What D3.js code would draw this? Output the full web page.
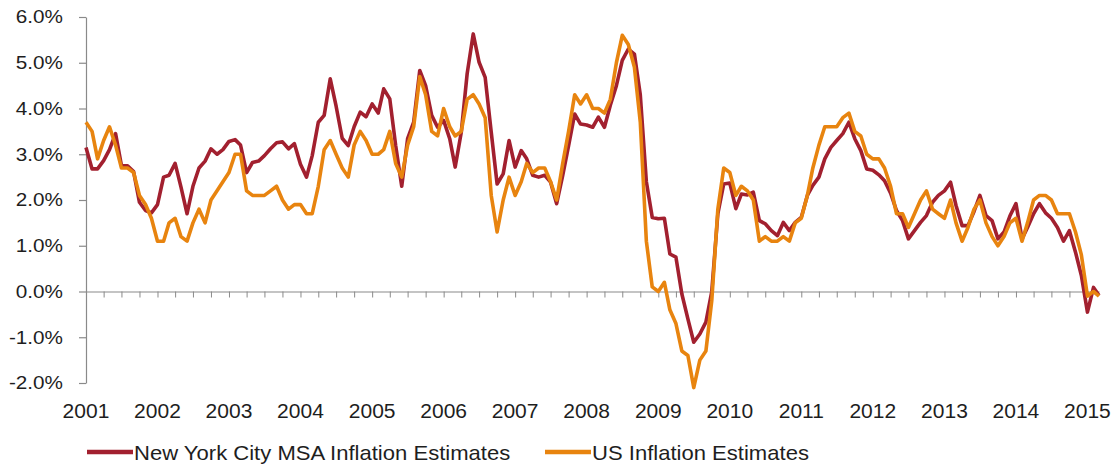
<!DOCTYPE html>
<html>
<head>
<meta charset="utf-8">
<script src="https://cdn.jsdelivr.net/npm/d3@7"></script>
<style>
  body { margin: 0; background: #fff; }
  svg { display: block; font-family: "Liberation Sans", Arial, sans-serif; }
</style>
</head>
<body>
<div id="chart"></div>
<script>
//Series data: monthly year-over-year inflation, Jan 2001 to Mar 2015 (percent)
var startMonth = "2001-01";
var nycInflation = [
  3.15, 2.68, 2.68, 2.86, 3.1, 3.45, 2.75, 2.75, 2.62, 1.95, 1.77, 1.72,
  1.9, 2.5, 2.54, 2.8, 2.28, 1.7, 2.3, 2.7, 2.85, 3.12, 3.0, 3.1,
  3.28, 3.32, 3.2, 2.6, 2.82, 2.85, 2.97, 3.12, 3.25, 3.27, 3.12, 3.23,
  2.78, 2.5, 2.97, 3.7, 3.85, 4.65, 4.05, 3.35, 3.19, 3.6, 3.92, 3.82,
  4.1, 3.9, 4.43, 4.21, 3.19, 2.3, 3.34, 3.7, 4.83, 4.5, 3.85, 3.59,
  3.74, 3.34, 2.72, 3.48, 4.76, 5.63, 5.01, 4.68, 3.48, 2.35, 2.57, 3.3,
  2.72, 3.08, 2.9, 2.54, 2.5, 2.54, 2.39, 1.92, 2.54, 3.19, 3.88, 3.66,
  3.64, 3.59, 3.81, 3.59, 4.07, 4.5, 5.05, 5.3, 5.19, 4.3, 2.4, 1.62,
  1.59, 1.6, 0.82, 0.75, -0.05, -0.6, -1.11, -0.93, -0.67, 0.0, 1.7, 2.35,
  2.37, 1.81, 2.13, 2.11, 2.17, 1.55, 1.48, 1.33, 1.22, 1.51, 1.33, 1.51,
  1.62, 2.1, 2.32, 2.5, 2.9, 3.15, 3.3, 3.45, 3.7, 3.34, 3.08, 2.68,
  2.65, 2.55, 2.42, 2.15, 1.77, 1.55, 1.15, 1.33, 1.51, 1.66, 1.95, 2.1,
  2.2, 2.39, 1.88, 1.44, 1.44, 1.75, 2.1, 1.66, 1.55, 1.15, 1.3, 1.65,
  1.92, 1.15, 1.4, 1.7, 1.92, 1.72, 1.6, 1.4, 1.1, 1.33, 0.86, 0.35,
  -0.45, 0.09, -0.09
];
var usInflation = [
  3.7, 3.5, 2.9, 3.3, 3.6, 3.2, 2.7, 2.7, 2.6, 2.1, 1.9, 1.6,
  1.1, 1.1, 1.5, 1.6, 1.2, 1.1, 1.5, 1.8, 1.5, 2.0, 2.2, 2.4,
  2.6, 3.0, 3.0, 2.2, 2.1, 2.1, 2.1, 2.2, 2.3, 2.0, 1.8, 1.9,
  1.9, 1.7, 1.7, 2.3, 3.1, 3.3, 3.0, 2.7, 2.5, 3.2, 3.5, 3.3,
  3.0, 3.0, 3.1, 3.5, 2.8, 2.5, 3.2, 3.6, 4.7, 4.3, 3.5, 3.4,
  4.0, 3.6, 3.4, 3.5, 4.2, 4.3, 4.1, 3.8, 2.1, 1.3, 2.0, 2.5,
  2.1, 2.4, 2.8, 2.6, 2.7, 2.7, 2.4, 2.0, 2.8, 3.5, 4.3, 4.1,
  4.3, 4.0, 4.0, 3.9, 4.2, 5.0, 5.6, 5.4, 4.9, 3.7, 1.1, 0.1,
  0.0, 0.2, -0.4, -0.7, -1.3, -1.4, -2.1, -1.5, -1.3, -0.2, 1.8, 2.7,
  2.6, 2.1, 2.3, 2.2, 2.0, 1.1, 1.2, 1.1, 1.1, 1.2, 1.1, 1.5,
  1.6, 2.1, 2.7, 3.2, 3.6, 3.6, 3.6, 3.8, 3.9, 3.5, 3.4, 3.0,
  2.9, 2.9, 2.7, 2.3, 1.7, 1.7, 1.4, 1.7, 2.0, 2.2, 1.8, 1.7,
  1.6, 2.0, 1.5, 1.1, 1.4, 1.8, 2.0, 1.5, 1.2, 1.0, 1.2, 1.5,
  1.6, 1.1, 1.5, 2.0, 2.1, 2.1, 2.0, 1.7, 1.7, 1.7, 1.3, 0.8,
  -0.1, 0.0, -0.1
];
var seriesNames = ["New York City MSA Inflation Estimates", "US Inflation Estimates"];
var seriesColors = ["#A2202F", "#E8840F"];
var yTicks = [-2, -1, 0, 1, 2, 3, 4, 5, 6];
var yearLabels = ["2001", "2002", "2003", "2004", "2005", "2006", "2007", "2008",
  "2009", "2010", "2011", "2012", "2013", "2014", "2015"];

//Chart dimensions
var width = 1114, height = 465;
var margin = { top: 17, right: 15, bottom: 82, left: 86 };

var parseMonth = d3.timeParse("%Y-%m");
var start = parseMonth(startMonth);
var months = nycInflation.map(function (d, i) { return d3.timeMonth.offset(start, i); });

var svg = d3.select("#chart")
  .append("svg")
  .attr("width", width)
  .attr("height", height);

var x = d3.scaleTime()
  .domain([months[0], months[months.length - 1]])
  .range([margin.left, width - margin.right]);

var y = d3.scaleLinear()
  .domain([-2, 6])
  .range([height - margin.bottom, margin.top]);

//Stretch text horizontally a bit, the reference glyphs are wider than Arial
function stretch(sel, k) {
  sel.each(function () {
    var len = this.getComputedTextLength();
    d3.select(this).attr("textLength", len * k).attr("lengthAdjust", "spacingAndGlyphs");
  });
}

// Y axis
var yAxis = svg.append("g")
  .attr("transform", "translate(" + margin.left + ",0)")
  .call(d3.axisLeft(y)
    .tickValues(yTicks)
    .tickFormat(function (d) { return d.toFixed(1) + "%"; })
    .tickSize(7)
    .tickSizeOuter(0)
    .tickPadding(16));
yAxis.select(".domain").attr("stroke", "#8a8a8a").attr("stroke-width", 1.2);
yAxis.selectAll(".tick line").attr("stroke", "#8a8a8a").attr("stroke-width", 1.2);
yAxis.selectAll(".tick text")
  .style("font-size", "18px")
  .attr("fill", "#1e1e1e")
  .call(stretch, 1.15);

// Zero line with quarterly ticks
var xAxis = svg.append("g")
  .attr("transform", "translate(0," + y(0) + ")")
  .call(d3.axisBottom(x)
    .ticks(d3.timeMonth.every(3))
    .tickFormat("")
    .tickSize(6)
    .tickSizeOuter(0));
xAxis.select(".domain").attr("stroke", "#8a8a8a").attr("stroke-width", 1.2);
xAxis.selectAll(".tick line").attr("stroke", "#8a8a8a").attr("stroke-width", 1);

// Year labels along the bottom
svg.append("g")
  .selectAll("text")
  .data(yearLabels)
  .enter()
  .append("text")
  .attr("x", function (d) { return x(parseMonth(d + "-01")); })
  .attr("y", 418)
  .attr("text-anchor", "middle")
  .style("font-size", "20px")
  .attr("fill", "#1e1e1e")
  .text(function (d) { return d; })
  .call(stretch, 1.05);

// Lines
var line = d3.line()
  .x(function (d, i) { return x(months[i]); })
  .y(function (d) { return y(d); });

svg.append("g")
  .selectAll("path")
  .data([nycInflation, usInflation])
  .enter()
  .append("path")
  .attr("d", line)
  .attr("fill", "none")
  .attr("stroke", function (d, i) { return seriesColors[i]; })
  .attr("stroke-width", 3.6)
  .attr("stroke-linejoin", "round");

// Legend
var legendX = [87, 545];
var legend = svg.append("g")
  .selectAll("g")
  .data(seriesNames)
  .enter()
  .append("g")
  .attr("transform", function (d, i) { return "translate(" + legendX[i] + ",452)"; });

legend.append("line")
  .attr("x1", 0)
  .attr("x2", 46)
  .attr("stroke", function (d, i) { return seriesColors[i]; })
  .attr("stroke-width", 4.5);

legend.append("text")
  .attr("x", 47)
  .attr("y", 7.5)
  .style("font-size", "21px")
  .attr("fill", "#1e1e1e")
  .text(function (d) { return d; })
  .call(stretch, 1.05);
</script>
</body>
</html>
